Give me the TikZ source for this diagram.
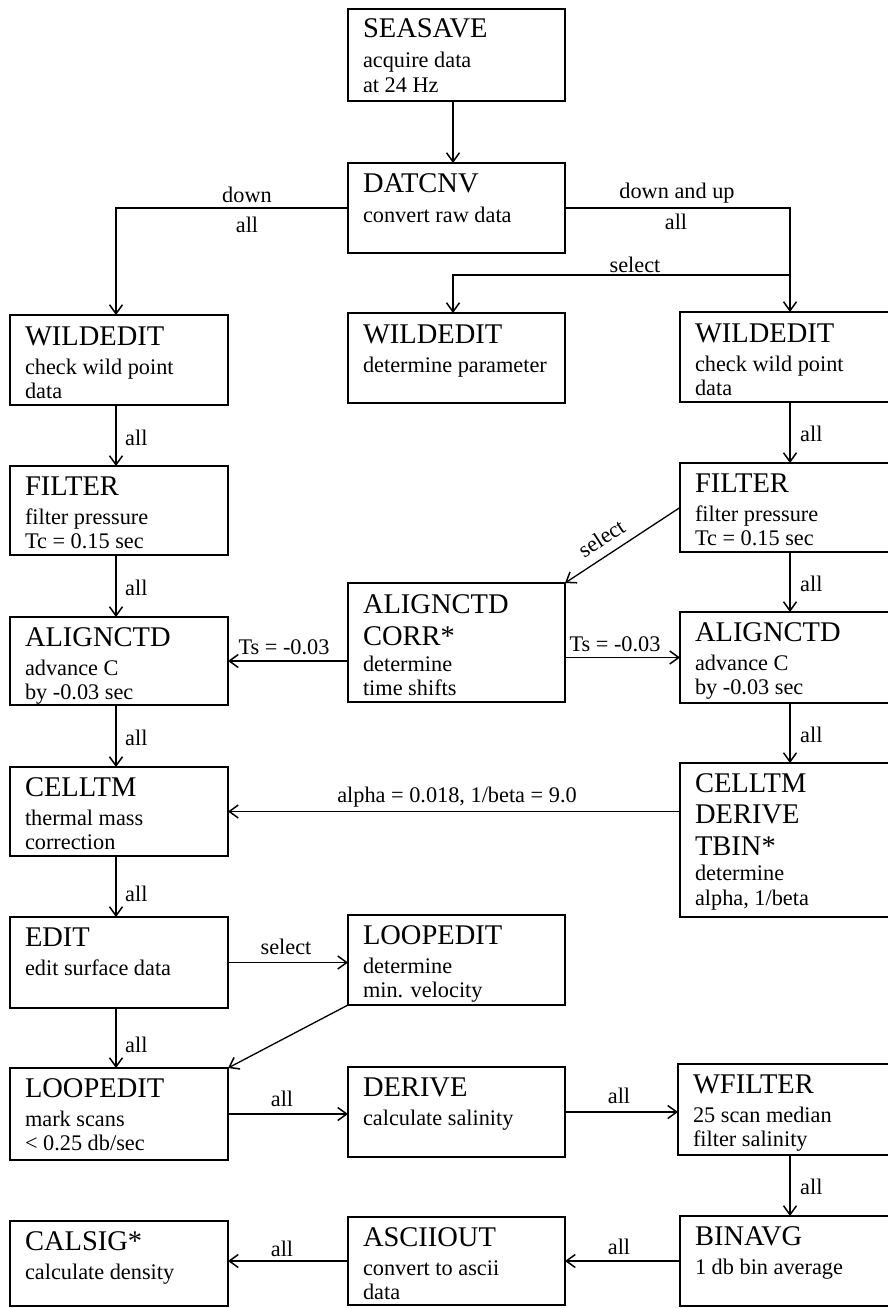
\documentclass[tikz,border=0pt]{standalone}
\usepackage{fontspec}
\setmainfont{Liberation Serif}
\usetikzlibrary{arrows.meta}
\newcommand\tfont{\fontsize{28.5}{30}\selectfont}
\newcommand\sfont{\fontsize{22.3}{24}\selectfont}
\newcommand\Tl[2]{\baselineskip=#1pt\hbox{\kern15pt\tfont #2}}
\newcommand\Sl[2]{\baselineskip=#1pt\hbox{\kern15pt\sfont #2}}
\newcommand\pb[6]{\node[pbox, anchor=north west] (#1) at (#2,#3) {\vbox to \dimexpr#5pt-#3pt\relax{\hsize=\dimexpr#4pt-#2pt\relax\lineskiplimit=-1000pt\hbox to\hsize{\hfil}#6\vss}};}
\tikzset{
  pbox/.style={draw, line width=1.5pt, inner sep=0pt, outer sep=0pt},
  arr/.style={line width=1.3pt, -{Straight Barb[length=9pt,width=13pt,line width=1.5pt]}},
  lbl/.style={font=\sfont, inner sep=0pt, anchor=base},
  lblw/.style={font=\sfont, inner sep=0pt, anchor=base west},
}
\begin{document}
\begin{tikzpicture}[x=1pt,y=-1pt]
\useasboundingbox (0,0) rectangle (888,1308);
% boxes
\pb{sea}{348}{9}{565}{101}{\Tl{29}{SEASAVE}\Sl{30}{acquire data}\Sl{25}{at 24 Hz}}
\pb{dat}{348}{163}{565}{253}{\Tl{29}{DATCNV}\Sl{30}{convert raw data}}
\pb{wl}{10}{315}{228}{405}{\Tl{30}{WILDEDIT}\Sl{29}{check wild point}\Sl{24}{data}}
\pb{wm}{348}{313}{565}{403}{\Tl{30}{WILDEDIT}\Sl{29}{determine parameter}}
\pb{wr}{680}{312}{898}{402}{\Tl{30}{WILDEDIT}\Sl{29}{check wild point}\Sl{24}{data}}
\pb{fl}{10}{466}{228}{555}{\Tl{29}{FILTER}\Sl{29}{filter pressure}\Sl{24}{Tc = 0.15 sec}}
\pb{fr}{680}{463}{898}{552}{\Tl{29}{FILTER}\Sl{29}{filter pressure}\Sl{24}{Tc = 0.15 sec}}
\pb{al}{10}{617}{228}{705}{\Tl{29}{ALIGNCTD}\Sl{29}{advance C}\Sl{24}{by -0.03 sec}}
\pb{am}{348}{583}{565}{702}{\Tl{30}{ALIGNCTD}\Tl{32}{CORR*}\Sl{26}{determine}\Sl{24}{time shifts}}
\pb{ar}{680}{612}{898}{703}{\Tl{29}{ALIGNCTD}\Sl{29}{advance C}\Sl{24}{by -0.03 sec}}
\pb{cl}{10}{767}{228}{856}{\Tl{29}{CELLTM}\Sl{29}{thermal mass}\Sl{24}{correction}}
\pb{cr}{680}{763}{898}{917}{\Tl{29}{CELLTM}\Tl{31}{DERIVE}\Tl{32}{TBIN*}\Sl{25}{determine}\Sl{25}{alpha, 1/beta}}
\pb{ed}{10}{917}{228}{1008}{\Tl{29}{EDIT}\Sl{29}{edit surface data}}
\pb{lm}{348}{915}{565}{1005}{\Tl{29}{LOOPEDIT}\Sl{29}{determine}\Sl{24}{min. velocity}}
\pb{ll}{10}{1068}{228}{1160}{\Tl{29}{LOOPEDIT}\Sl{29}{mark scans}\Sl{24}{< 0.25 db/sec}}
\pb{de}{348}{1067}{565}{1157}{\Tl{29}{DERIVE}\Sl{29}{calculate salinity}}
\pb{wf}{678}{1064}{898}{1155}{\Tl{29}{WFILTER}\Sl{29}{25 scan median}\Sl{24}{filter salinity}}
\pb{bi}{680}{1216}{898}{1306}{\Tl{29}{BINAVG}\Sl{29}{1 db bin average}}
\pb{as}{348}{1217}{565}{1305}{\Tl{29}{ASCIIOUT}\Sl{29}{convert to ascii}\Sl{24}{data}}
\pb{cs}{10}{1221}{228}{1306}{\Tl{29}{CALSIG*}\Sl{29}{calculate density}}
% column coordinates
\coordinate (xl) at (116,0);
\coordinate (xm) at (453,0);
\coordinate (xr) at (790,0);
\coordinate (sj) at (790,275);
% connectors
\draw[arr] (sea.south -| xm) -- (dat.north -| xm);
\draw[arr] (dat.west) -| (wl.north -| xl);
\draw[arr] (dat.east) -| (wr.north -| xr);
\draw[arr] (sj) -| (wm.north -| xm);
\draw[arr] (wl.south -| xl) -- (fl.north -| xl);
\draw[arr] (fl.south -| xl) -- (al.north -| xl);
\draw[arr] (al.south -| xl) -- (cl.north -| xl);
\draw[arr] (cl.south -| xl) -- (ed.north -| xl);
\draw[arr] (ed.south -| xl) -- (ll.north -| xl);
\draw[arr] (wr.south -| xr) -- (fr.north -| xr);
\draw[arr] (fr.south -| xr) -- (ar.north -| xr);
\draw[arr] (ar.south -| xr) -- (cr.north -| xr);
\draw[arr] (fr.west) -- node[font=\sfont, inner sep=0pt, sloped, above=9pt, pos=0.6] (lsel1) {select} (am.north east);
\draw[arr] (am.west |- al.east) -- (al.east);
\draw[arr] (am.east |- ar.west) -- (ar.west);
\draw[arr] (cr.west |- cl.east) -- (cl.east);
\draw[arr] (ed.east) -- (lm.west |- ed.east);
\draw[arr] (lm.south west) -- (ll.north east);
\draw[arr] (ll.east) -- (de.west |- ll.east);
\draw[arr] (de.east) -- (wf.west |- de.east);
\draw[arr] (wf.south -| xr) -- (bi.north -| xr);
\draw[arr] (bi.west) -- (as.east |- bi.west);
\draw[arr] (as.west) -- (cs.east |- as.west);
% labels
\node[lbl] (ldown) at (247,202) {down};
\node[lbl] (lall1) at (247,232) {all};
\node[lbl] (ldu) at (677,199) {down and up};
\node[lbl] (lall2) at (676,229) {all};
\node[lbl] (lsel0) at (635,272) {select};
\node[lblw] (la1) at (125,445) {all};
\node[lblw] (la2) at (125,595) {all};
\node[lblw] (la3) at (125,745) {all};
\node[lblw] (la4) at (125,901) {all};
\node[lblw] (la5) at (125,1052) {all};
\node[lblw] (lb1) at (800,441) {all};
\node[lblw] (lb2) at (800,591) {all};
\node[lblw] (lb3) at (800,742) {all};
\node[lblw] (lb4) at (800,1194) {all};
\node[lbl] (lts1) at (284,654) {Ts = -0.03};
\node[lbl] (lts2) at (615,651) {Ts = -0.03};
\node[lbl] (lalpha) at (457,802) {alpha = 0.018, 1/beta = 9.0};
\node[lbl] (lsel2) at (286,954) {select};
\node[lbl] (lc1) at (282,1106) {all};
\node[lbl] (lc2) at (619,1103) {all};
\node[lbl] (lc3) at (619,1254) {all};
\node[lbl] (lc4) at (282,1256) {all};
\end{tikzpicture}
\end{document}
